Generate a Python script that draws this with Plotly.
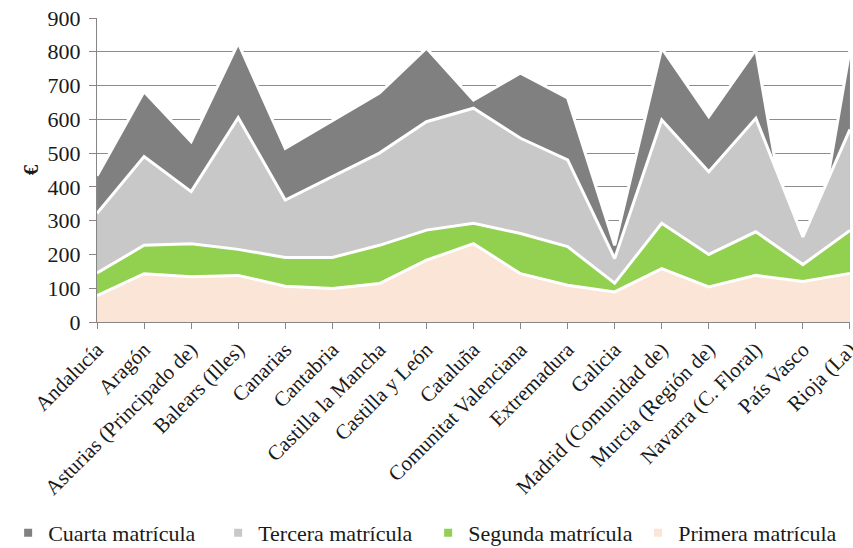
import plotly.graph_objects as go

regions = ["Andalucía", "Aragón", "Asturias (Principado de)", "Balears (Illes)", "Canarias",
           "Cantabria", "Castilla la Mancha", "Castilla y León", "Cataluña",
           "Comunitat Valenciana", "Extremadura", "Galicia", "Madrid (Comunidad de)",
           "Murcia (Región de)", "Navarra (C. Floral)", "País Vasco", "Rioja (La)"]

# price per enrolment (€), one value per region
primera = [78, 143, 134, 138, 106, 99, 114, 183, 232, 143, 109, 89, 158, 104, 138, 120, 144]
segunda = [145, 227, 232, 215, 191, 191, 227, 272, 292, 262, 223, 115, 292, 200, 267, 170, 271]
tercera = [322, 490, 386, 605, 361, 430, 500, 593, 633, 544, 480, 188, 598, 445, 603, 252, 570]
cuarta = [433, 682, 534, 826, 514, 595, 678, 811, 657, 737, 663, 227, 811, 608, 806, 0, 805]

y_ticks = [0, 100, 200, 300, 400, 500, 600, 700, 800, 900]

series = [
    ("Cuarta matrícula", cuarta, "#808080"),
    ("Tercera matrícula", tercera, "#c8c8c8"),
    ("Segunda matrícula", segunda, "#92d050"),
    ("Primera matrícula", primera, "#fbe5d6"),
]

xs = list(range(len(regions)))
fig = go.Figure()
for name, vals, col in series:
    fig.add_trace(go.Scatter(x=xs, y=vals, name=name, mode="lines", fill="tozeroy",
                             fillcolor=col, line=dict(color="white", width=3),
                             showlegend=False))
# small square legend keys like the original
for name, vals, col in series:
    fig.add_trace(go.Scatter(x=[None], y=[None], name=name, mode="markers",
                             marker=dict(symbol="square", size=8, color=col)))

serif = "Liberation Serif"
fig.update_layout(
    width=853, height=548,
    margin=dict(l=97, r=3, t=18, b=226, autoexpand=False),
    plot_bgcolor="white", paper_bgcolor="white",
    font=dict(family=serif, size=21, color="#1a1a1a"),
    legend=dict(orientation="h", x=-0.118, xanchor="left", y=-0.694, yanchor="middle",
                font=dict(family=serif, size=22, color="#1a1a1a"),
                itemwidth=30, entrywidth=165, entrywidthmode="pixels"),
)
fig.add_annotation(text="<b>€</b>", xref="paper", yref="paper", x=-0.106, y=0.5,
                   showarrow=False, textangle=-90,
                   font=dict(family=serif, size=21, color="#1a1a1a"))
fig.update_xaxes(
    range=[-0.001, len(regions) - 1 + 0.001], tickmode="array", tickvals=xs, ticktext=regions,
    tickangle=-45, ticks="outside", ticklen=6, tickcolor="#868686",
    showline=True, linecolor="#868686", linewidth=1, showgrid=False, zeroline=False,
    automargin=False, ticklabeloverflow="allow",
    tickfont=dict(family=serif, size=21, color="#1a1a1a"),
)
fig.update_yaxes(
    range=[0, 900], tickvals=y_ticks, ticks="outside", ticklen=7, tickcolor="#868686",
    showline=True, linecolor="#868686", linewidth=1,
    showgrid=True, gridcolor="#8c8c8c", gridwidth=1, zeroline=False,
    automargin=False, ticklabeloverflow="allow", ticklabelstandoff=4,
    tickfont=dict(family=serif, size=22, color="#1a1a1a"),
)

# drop the default page margin so the figure fills the window exactly
fig.write_html("out.html", config={"displayModeBar": False},
               post_script="document.body.style.margin='0';")
